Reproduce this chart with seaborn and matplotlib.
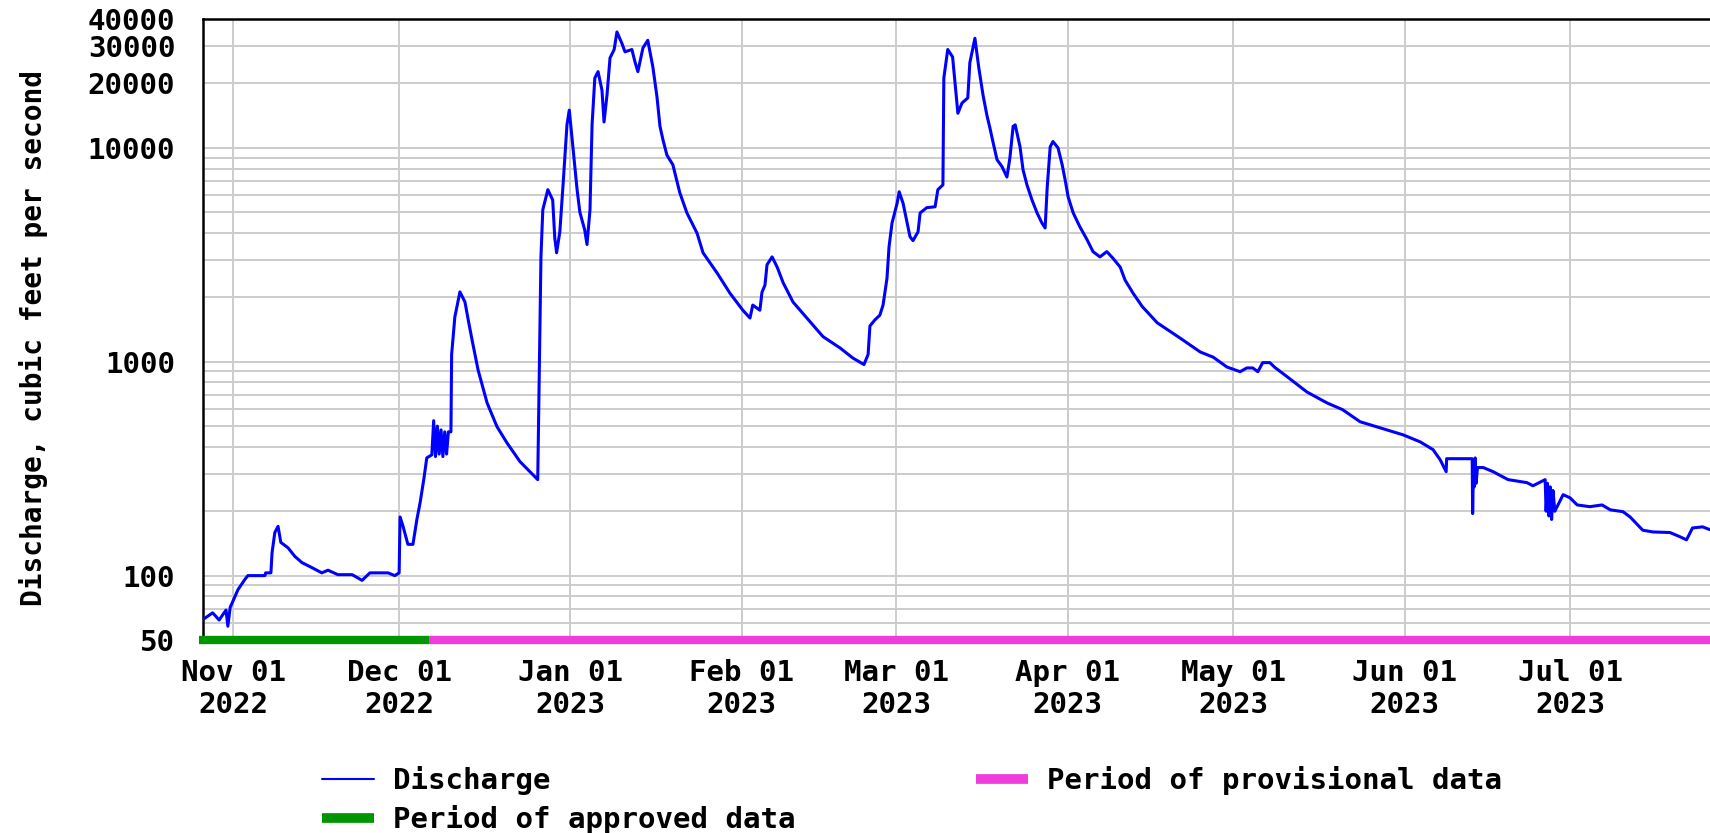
import matplotlib
matplotlib.use("Agg")
import matplotlib.pyplot as plt
from matplotlib.lines import Line2D
from matplotlib.ticker import FixedLocator, NullFormatter
import pandas as pd
import seaborn as sns

# ---------------- data ----------------
obs_time = [
    "2022-10-26 18:00", "2022-10-28 06:00", "2022-10-29 10:00", "2022-10-30 16:00",
    "2022-10-31 00:00", "2022-10-31 10:00", "2022-11-01 20:00", "2022-11-03 02:00",
    "2022-11-03 15:00", "2022-11-06 17:00", "2022-11-06 20:00", "2022-11-07 19:00",
    "2022-11-08 00:00", "2022-11-08 12:00", "2022-11-09 02:00", "2022-11-09 14:00",
    "2022-11-10 21:00", "2022-11-12 03:00", "2022-11-13 10:00", "2022-11-15 05:00",
    "2022-11-17 00:00", "2022-11-18 03:00", "2022-11-19 22:00", "2022-11-22 12:00",
    "2022-11-24 07:00", "2022-11-25 17:00", "2022-11-29 00:00", "2022-11-30 05:00",
    "2022-12-01 00:00", "2022-12-01 04:00", "2022-12-01 17:00", "2022-12-02 14:00",
    "2022-12-03 12:00", "2022-12-04 05:00", "2022-12-04 19:00", "2022-12-05 12:00",
    "2022-12-06 00:00", "2022-12-06 22:00", "2022-12-07 06:00", "2022-12-07 14:00",
    "2022-12-07 22:00", "2022-12-08 06:00", "2022-12-08 14:00", "2022-12-08 22:00",
    "2022-12-09 06:00", "2022-12-09 14:00", "2022-12-09 22:00", "2022-12-10 09:00",
    "2022-12-10 12:00", "2022-12-11 02:00", "2022-12-12 00:00", "2022-12-12 22:00",
    "2022-12-13 12:00", "2022-12-14 05:00", "2022-12-15 07:00", "2022-12-16 22:00",
    "2022-12-18 17:00", "2022-12-20 12:00", "2022-12-22 21:00", "2022-12-26 02:00",
    "2022-12-26 16:00", "2022-12-27 00:00", "2022-12-27 22:00", "2022-12-28 19:00",
    "2022-12-29 04:00", "2022-12-29 12:00", "2022-12-30 02:00", "2022-12-30 16:00",
    "2022-12-31 09:00", "2022-12-31 19:00", "2023-01-01 12:00", "2023-01-02 05:00",
    "2023-01-02 17:00", "2023-01-03 14:00", "2023-01-04 00:00", "2023-01-04 13:00",
    "2023-01-04 22:00", "2023-01-05 10:00", "2023-01-06 00:00", "2023-01-06 17:00",
    "2023-01-07 02:00", "2023-01-07 15:00", "2023-01-08 04:00", "2023-01-08 22:00",
    "2023-01-09 10:00", "2023-01-10 08:00", "2023-01-10 21:00", "2023-01-12 03:00",
    "2023-01-12 16:00", "2023-01-13 05:00", "2023-01-14 03:00", "2023-01-15 00:00",
    "2023-01-15 22:00", "2023-01-16 16:00", "2023-01-17 05:00", "2023-01-17 18:00",
    "2023-01-18 11:00", "2023-01-19 13:00", "2023-01-20 19:00", "2023-01-22 02:00",
    "2023-01-23 22:00", "2023-01-25 00:00", "2023-01-27 13:00", "2023-01-29 21:00",
    "2023-02-01 05:00", "2023-02-02 12:00", "2023-02-03 00:00", "2023-02-04 07:00",
    "2023-02-04 16:00", "2023-02-05 05:00", "2023-02-05 14:00", "2023-02-06 12:00",
    "2023-02-07 10:00", "2023-02-08 12:00", "2023-02-10 07:00", "2023-02-12 19:00",
    "2023-02-15 17:00", "2023-02-18 19:00", "2023-02-21 03:00", "2023-02-23 03:00",
    "2023-02-23 21:00", "2023-02-24 05:00", "2023-02-25 03:00", "2023-02-26 00:00",
    "2023-02-26 14:00", "2023-02-27 07:00", "2023-02-27 16:00", "2023-02-28 05:00",
    "2023-03-01 03:00", "2023-03-01 12:00", "2023-03-02 05:00", "2023-03-02 22:00",
    "2023-03-03 11:00", "2023-03-04 00:00", "2023-03-04 22:00", "2023-03-05 07:00",
    "2023-03-06 12:00", "2023-03-08 00:00", "2023-03-08 12:00", "2023-03-09 10:00",
    "2023-03-09 14:00", "2023-03-10 07:00", "2023-03-11 04:00", "2023-03-11 14:00",
    "2023-03-12 03:00", "2023-03-12 21:00", "2023-03-13 22:00", "2023-03-14 07:00",
    "2023-03-15 05:00", "2023-03-15 22:00", "2023-03-16 16:00", "2023-03-17 09:00",
    "2023-03-17 22:00", "2023-03-18 11:00", "2023-03-19 05:00", "2023-03-20 03:00",
    "2023-03-21 00:00", "2023-03-21 13:00", "2023-03-22 03:00", "2023-03-22 12:00",
    "2023-03-23 09:00", "2023-03-23 22:00", "2023-03-24 15:00", "2023-03-25 13:00",
    "2023-03-26 11:00", "2023-03-27 08:00", "2023-03-27 22:00", "2023-03-28 07:00",
    "2023-03-28 20:00", "2023-03-29 08:00", "2023-03-30 06:00", "2023-03-31 00:00",
    "2023-03-31 13:00", "2023-04-01 02:00", "2023-04-02 00:00", "2023-04-03 05:00",
    "2023-04-04 12:00", "2023-04-05 14:00", "2023-04-06 20:00", "2023-04-08 02:00",
    "2023-04-09 04:00", "2023-04-10 12:00", "2023-04-11 09:00", "2023-04-12 20:00",
    "2023-04-14 12:00", "2023-04-17 05:00", "2023-04-21 08:00", "2023-04-25 00:00",
    "2023-04-27 08:00", "2023-04-29 20:00", "2023-05-02 05:00", "2023-05-03 10:00",
    "2023-05-04 12:00", "2023-05-05 10:00", "2023-05-06 07:00", "2023-05-07 14:00",
    "2023-05-08 12:00", "2023-05-10 17:00", "2023-05-14 07:00", "2023-05-17 22:00",
    "2023-05-20 19:00", "2023-05-23 22:00", "2023-05-27 12:00", "2023-05-31 17:00",
    "2023-06-03 19:00", "2023-06-06 03:00", "2023-06-07 10:00", "2023-06-08 12:00",
    "2023-06-08 14:00", "2023-06-13 05:00", "2023-06-13 07:00", "2023-06-13 10:00",
    "2023-06-13 14:00", "2023-06-13 18:00", "2023-06-13 22:00", "2023-06-14 04:00",
    "2023-06-15 05:00", "2023-06-17 00:00", "2023-06-19 17:00", "2023-06-23 03:00",
    "2023-06-24 05:00", "2023-06-26 10:00", "2023-06-26 14:00", "2023-06-26 20:00",
    "2023-06-27 02:00", "2023-06-27 08:00", "2023-06-27 14:00", "2023-06-27 20:00",
    "2023-06-28 04:00", "2023-06-29 16:00", "2023-06-30 22:00", "2023-07-02 05:00",
    "2023-07-04 12:00", "2023-07-06 17:00", "2023-07-08 05:00", "2023-07-10 12:00",
    "2023-07-11 19:00", "2023-07-14 02:00", "2023-07-15 22:00", "2023-07-19 00:00",
    "2023-07-20 19:00", "2023-07-22 00:00", "2023-07-23 02:00", "2023-07-24 22:00",
    "2023-07-26 05:00",
]
discharge_cfs = [
    63, 67, 62, 69,
    58, 71, 86, 96,
    100, 100, 103, 103,
    128, 159, 170, 143,
    135, 123, 115, 109,
    103, 106, 101, 101,
    95, 103, 103, 100,
    103, 188, 170, 140,
    140, 183, 219, 286,
    355, 367, 530, 360,
    500, 370, 480, 360,
    470, 370, 470, 470,
    1080, 1620, 2120, 1900,
    1570, 1260, 914, 642,
    497, 418, 341, 281,
    3090, 5130, 6370, 5700,
    3790, 3230, 4050, 6710,
    12800, 15000, 9780, 6370,
    5000, 4130, 3530, 5130,
    12800, 21200, 22700, 18600,
    13200, 17700, 26300, 28800,
    34800, 30700, 28100, 28800,
    25300, 22700, 29300, 31800,
    23900, 17300, 12600, 10900,
    9250, 8330, 6170, 4960,
    3990, 3230, 2600, 2090,
    1740, 1600, 1840, 1740,
    2110, 2280, 2840, 3090,
    2770, 2340, 1900, 1600,
    1310, 1160, 1040, 970,
    1080, 1470, 1570, 1650,
    1840, 2450, 3450, 4450,
    5500, 6230, 5500, 4500,
    3840, 3680, 4050, 4960,
    5250, 5300, 6370, 6710,
    21200, 28800, 26600, 20400,
    14500, 16200, 17100, 25000,
    32500, 23600, 17700, 14200,
    12400, 10700, 8800, 8150,
    7300, 8980, 12600, 12800,
    10100, 7900, 6710, 5700,
    4960, 4450, 4220, 6540,
    10100, 10700, 9990, 8330,
    7070, 5890, 4960, 4270,
    3720, 3270, 3090, 3270,
    3050, 2770, 2410, 2090,
    1810, 1520, 1290, 1110,
    1050, 944, 898, 935,
    935, 898, 990, 990,
    940, 851, 722, 642,
    596, 524, 491, 455,
    422, 388, 348, 306,
    352, 352, 195, 300,
    260, 355, 270, 320,
    320, 306, 281, 272,
    263, 281, 200, 270,
    190, 260, 183, 250,
    200, 239, 231, 214,
    210, 214, 203, 199,
    188, 163, 160, 159,
    152, 147, 167, 169,
    164,
]
approved_period = ["2022-10-25 18:00", "2022-12-06 08:00"]
provisional_period = ["2022-12-06 08:00", "2023-08-05 00:00"]

month_ticks = ["2022-11-01", "2022-12-01", "2023-01-01", "2023-02-01", "2023-03-01",
               "2023-04-01", "2023-05-01", "2023-06-01", "2023-07-01"]
month_labels = ["Nov 01\n2022", "Dec 01\n2022", "Jan 01\n2023", "Feb 01\n2023",
                "Mar 01\n2023", "Apr 01\n2023", "May 01\n2023", "Jun 01\n2023",
                "Jul 01\n2023"]
y_major = [50, 100, 1000, 10000, 20000, 30000, 40000]
y_major_labels = ["50", "100", "1000", "10000", "20000", "30000", "40000"]
y_minor = [60, 70, 80, 90, 200, 300, 400, 500, 600, 700, 800, 900,
           2000, 3000, 4000, 5000, 6000, 7000, 8000, 9000]

x_start, x_end = "2022-10-26 12:00", "2023-07-26 06:00"

# ---------------- styling ----------------
sns.set_theme(style="white")
plt.rcParams["font.family"] = ["DejaVu Sans Mono", "DejaVu Sans"]
plt.rcParams["font.weight"] = "bold"
plt.rcParams["text.color"] = "black"
plt.rcParams["axes.labelcolor"] = "black"
plt.rcParams["xtick.color"] = "black"
plt.rcParams["ytick.color"] = "black"

BLUE = "#0000FF"
GREEN = "#009600"
PINK = "#F03CDC"
GRID = "#CCCCCC"

fig = plt.figure(figsize=(17.1, 8.33), dpi=100)
ax = fig.add_axes([0.11871, 0.23169, 0.88129, 0.7455])

df = pd.DataFrame({"time": pd.to_datetime(obs_time), "Discharge": discharge_cfs})
sns.lineplot(data=df, x="time", y="Discharge", ax=ax, color=BLUE, lw=2.2,
             estimator=None, legend=False, zorder=3)

ax.set_yscale("log")
ax.set_ylim(50, 40000)
ax.set_xlim(pd.Timestamp(x_start), pd.Timestamp(x_end))

# approval-status bars along the bottom axis
ax.plot(pd.to_datetime(approved_period), [50, 50], color=GREEN, lw=6,
        solid_capstyle="butt", clip_on=False, zorder=6)
ax.plot(pd.to_datetime(provisional_period), [50, 50], color=PINK, lw=6,
        solid_capstyle="butt", clip_on=False, zorder=6)

ax.set_xticks(pd.to_datetime(month_ticks))
ax.set_xticklabels(month_labels)
ax.set_yticks(y_major)
ax.set_yticklabels(y_major_labels)
ax.yaxis.set_minor_locator(FixedLocator(y_minor))
ax.yaxis.set_minor_formatter(NullFormatter())
ax.tick_params(which="both", length=0, colors="black")
ax.tick_params(axis="y", pad=20, labelsize=21)
ax.tick_params(axis="x", pad=14, labelsize=21)
for lbl in ax.get_xticklabels():
    lbl.set_linespacing(1.15)

ax.grid(True, which="major", color=GRID, lw=1.4)
ax.grid(True, which="minor", axis="y", color=GRID, lw=1.4)
ax.set_axisbelow(True)

for side in ["left", "top", "bottom"]:
    ax.spines[side].set_color("black")
    ax.spines[side].set_linewidth(1.8)
ax.spines["right"].set_visible(False)

ax.set_xlabel("")
ax.set_ylabel("Discharge, cubic feet per second", fontsize=20, fontweight="bold",
              color="black", va="center", ha="center")
ax.yaxis.set_label_coords(-0.1128, 0.486)

handles = [Line2D([], [], color=BLUE, lw=1.5),
           Line2D([], [], color=GREEN, lw=7, solid_capstyle="butt"),
           Line2D([], [], color=PINK, lw=7, solid_capstyle="butt")]
labels = ["Discharge", "Period of approved data", "Period of provisional data"]
fig.legend(handles, labels, loc="upper left", bbox_to_anchor=(0.1883, 0.0805),
           ncol=2, frameon=False, fontsize=21, handlelength=1.78,
           handletextpad=0.65, columnspacing=6.2, labelspacing=0.34,
           borderpad=0, borderaxespad=0, labelcolor="black")

fig.savefig("out.png", dpi=100)
